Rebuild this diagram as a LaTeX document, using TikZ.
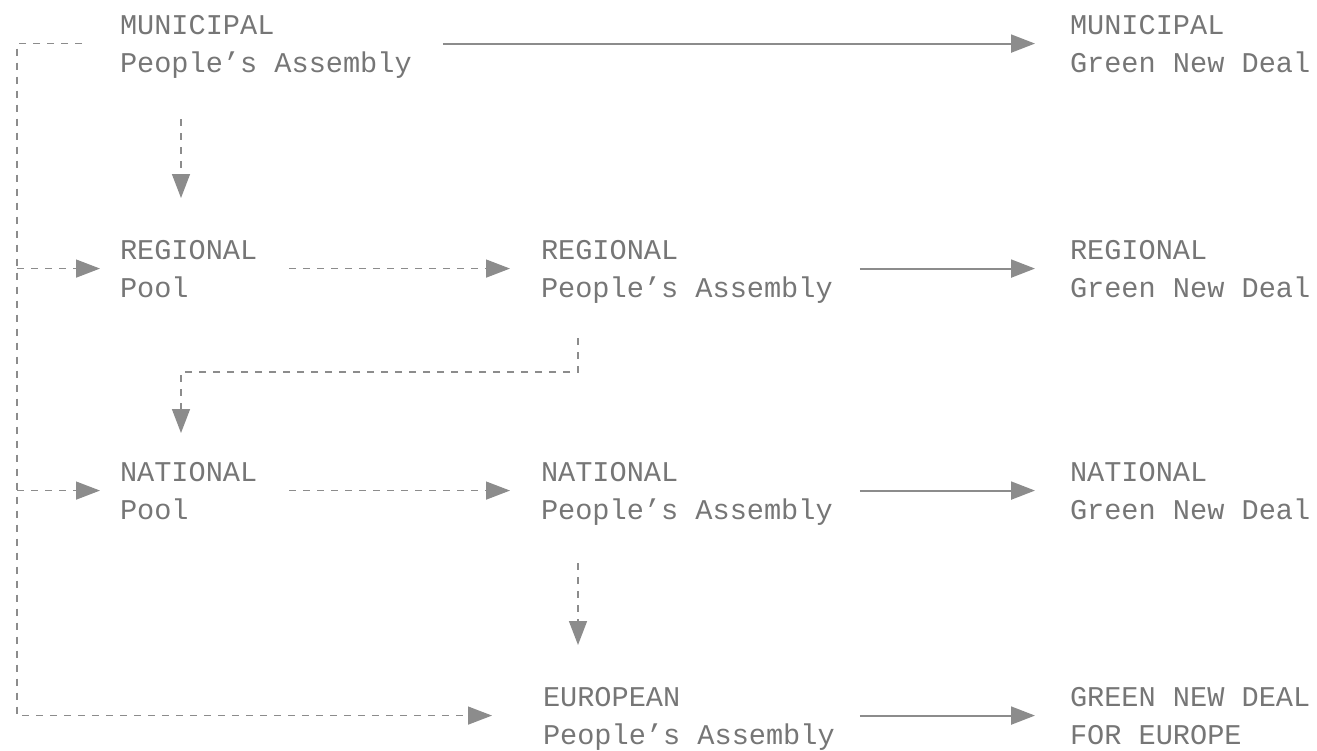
\documentclass[tikz,border=0pt]{standalone}
\usepackage{fontspec}
\newfontfamily\monof{Liberation Mono}
\usetikzlibrary{arrows.meta,calc}
\definecolor{txtgray}{HTML}{767676}
\definecolor{lngray}{HTML}{8C8C8C}
\newcommand{\lvl}[2]{#1\\\smash{#2}}
\tikzset{
  lbl/.style={anchor=north west,inner sep=0pt,outer sep=0pt,align=left,text=txtgray,
    font=\monof\fontsize{28.6pt}{38pt}\selectfont},
  solidarr/.style={draw=lngray,line width=2pt,-{Triangle[length=24pt,width=18pt]}},
  dasharr/.style={draw=lngray,line width=1.5pt,dash pattern=on 7pt off 7pt,-{Triangle[length=24pt,width=18pt]}},
  dashln/.style={draw=lngray,line width=1.5pt,dash pattern=on 7pt off 7pt}
}
\begin{document}
\begin{tikzpicture}[x=1pt,y=-1pt]
\useasboundingbox (0,0) rectangle (1317,750);
% nodes
\node[lbl] (mpa)   at (120,15)  {\lvl{MUNICIPAL}{People’s Assembly}};
\node[lbl] (mgnd)  at (1070,15) {\lvl{MUNICIPAL}{Green New Deal}};
\node[lbl] (rpool) at (120,240) {\lvl{REGIONAL}{Pool}};
\node[lbl] (rpa)   at (541,240) {\lvl{REGIONAL}{People’s Assembly}};
\node[lbl] (rgnd)  at (1070,240){\lvl{REGIONAL}{Green New Deal}};
\node[lbl] (npool) at (120,462) {\lvl{NATIONAL}{Pool}};
\node[lbl] (npa)   at (541,462) {\lvl{NATIONAL}{People’s Assembly}};
\node[lbl] (ngnd)  at (1070,462){\lvl{NATIONAL}{Green New Deal}};
\node[lbl] (epa)   at (543,687) {\lvl{EUROPEAN}{People’s Assembly}};
\node[lbl] (egnd)  at (1070,687){\lvl{GREEN NEW DEAL}{FOR EUROPE}};
\coordinate (busx) at (17,0);
% solid arrows
\draw[solidarr,shorten <=31pt,shorten >=35pt] (mpa.east) -- (mgnd.west);
\draw[solidarr,shorten <=27pt,shorten >=35pt] (rpa.east) -- (rgnd.west);
\draw[solidarr,shorten <=27pt,shorten >=35pt] (npa.east) -- (ngnd.west);
\draw[solidarr,shorten <=25pt,shorten >=35pt] (epa.east) -- (egnd.west);
% dashed horizontal arrows
\draw[dasharr,shorten <=32pt,shorten >=31pt] (rpool.east) -- (rpa.west);
\draw[dasharr,shorten <=32pt,shorten >=31pt] (npool.east) -- (npa.west);
% dashed vertical arrows
\draw[dasharr,shorten <=47pt,shorten >=42pt] ($(mpa.south west)+(61,0)$) -- ($(rpool.north west)+(61,0)$);
\draw[dasharr,shorten <=44pt,shorten >=42pt] ($(npa.south west)+(37,0)$) -- ($(epa.north west)+(35,0)$);
\draw[dasharr] ($(rpa.south west)+(37,41)$) -- ++(0,34) -| ($(npool.north west)+(61,-29)$);
% left bus
\draw[dasharr,shorten >=51pt] ($(mpa.west)+(-38,0)$) -| (busx |- epa.west) -- (epa.west);
\draw[dasharr,shorten >=20pt] (busx |- rpool.west) -- (rpool.west);
\draw[dasharr,shorten >=20pt] (busx |- npool.west) -- (npool.west);
\end{tikzpicture}
\end{document}
